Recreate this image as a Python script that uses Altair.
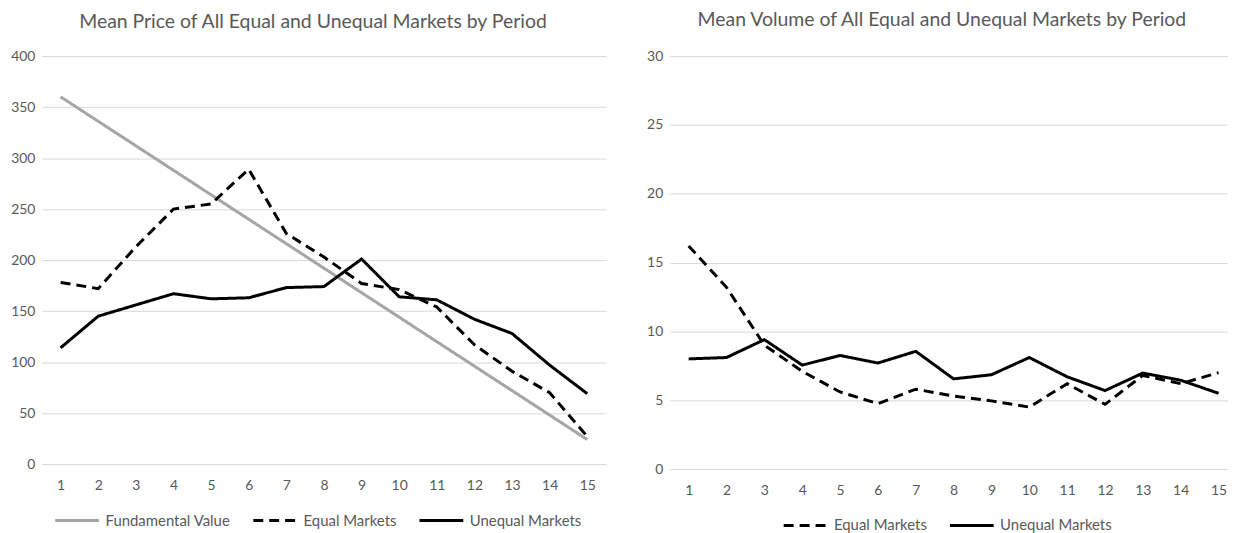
import altair as alt
import pandas as pd

periods = [1, 2, 3, 4, 5, 6, 7, 8, 9, 10, 11, 12, 13, 14, 15]

# Mean price
fundamental_value = [360, 336, 312, 288, 264, 240, 216, 192, 168, 144, 120, 96, 72, 48, 24]
price_equal = [178, 172, 213, 250, 255, 289, 226, 203, 177, 171, 154, 117, 91, 70, 27]
price_unequal = [114, 145, 156, 167, 162, 163, 173, 174, 201, 164, 161, 142, 128, 97, 69]

# Mean volume
volume_equal = [16.2, 13.2, 9.0, 7.1, 5.6, 4.75, 5.8, 5.3, 4.95, 4.5, 6.2, 4.7, 6.8, 6.2, 7.0]
volume_unequal = [8.0, 8.1, 9.4, 7.55, 8.25, 7.7, 8.55, 6.55, 6.85, 8.1, 6.7, 5.7, 6.97, 6.45, 5.5]

price_ticks = [0, 50, 100, 150, 200, 250, 300, 350, 400]
volume_ticks = [0, 5, 10, 15, 20, 25, 30]

price_series = ["Fundamental Value", "Equal Markets", "Unequal Markets"]
volume_series = ["Equal Markets", "Unequal Markets"]

rows = []
for name, vals in zip(price_series, [fundamental_value, price_equal, price_unequal]):
    for p, v in zip(periods, vals):
        rows.append({"Period": p, "Value": v, "Series": name})
df_price = pd.DataFrame(rows)

rows = []
for name, vals in zip(volume_series, [volume_equal, volume_unequal]):
    for p, v in zip(periods, vals):
        rows.append({"Period": p, "Value": v, "Series": name})
df_volume = pd.DataFrame(rows)

GRID = "#d9d9d9"
TXT = "#595959"
FONT = "Lato"
SYM = 1936


def x_enc(domain):
    return alt.X(
        "Period:Q",
        scale=alt.Scale(domain=domain, nice=False, zero=False),
        axis=alt.Axis(values=periods, format="d", grid=False, ticks=False, domain=False,
                      labelPadding=15, title=None, labelFlush=False),
    )


def y_enc(domain, ticks):
    return alt.Y(
        "Value:Q",
        scale=alt.Scale(domain=domain, nice=False),
        axis=alt.Axis(values=ticks, grid=True, ticks=False, domain=False, title=None,
                      labelPadding=7, gridColor=GRID, gridWidth=1),
    )


def legend(lx, ly):
    return alt.Legend(title=None, orient="none", direction="horizontal", legendX=lx, legendY=ly,
                      symbolType="stroke", symbolSize=SYM, symbolStrokeWidth=3,
                      labelOffset=5, columnPadding=16)


price_chart = alt.Chart(df_price).mark_line(strokeWidth=3).encode(
    x=x_enc([0.5, 15.5]),
    y=y_enc([0, 400], price_ticks),
    color=alt.Color("Series:N", scale=alt.Scale(domain=price_series, range=["#a5a5a5", "#000000", "#000000"]),
                    legend=legend(12, 443)),
    strokeDash=alt.StrokeDash("Series:N", scale=alt.Scale(domain=price_series, range=[[1, 0], [10, 6], [1, 0]]),
                              legend=legend(12, 443)),
).properties(
    width=567, height=410,
    title=alt.TitleParams("Mean Price of All Equal and Unequal Markets by Period", fontSize=19.5, color=TXT,
                          font=FONT, fontWeight="normal", anchor="middle", dx=-11, dy=1, offset=18),
)

volume_chart = alt.Chart(df_volume).mark_line(strokeWidth=3).encode(
    x=x_enc([0.5, 15.25]),
    y=y_enc([0, 30], volume_ticks),
    color=alt.Color("Series:N", scale=alt.Scale(domain=volume_series, range=["#000000", "#000000"]),
                    legend=legend(113, 448)),
    strokeDash=alt.StrokeDash("Series:N", scale=alt.Scale(domain=volume_series, range=[[10, 6], [1, 0]]),
                              legend=legend(113, 448)),
).properties(
    width=561, height=415,
    title=alt.TitleParams("Mean Volume of All Equal and Unequal Markets by Period", fontSize=19.5, color=TXT,
                          font=FONT, fontWeight="normal", anchor="middle", dx=-7, dy=-1, offset=18),
)

chart = alt.hconcat(price_chart, volume_chart, spacing=40).resolve_scale(
    color="independent", strokeDash="independent"
).resolve_legend(color="independent", strokeDash="independent").properties(
    padding={"left": 2, "top": 0, "right": 0, "bottom": 0}
).configure_view(stroke=None).configure_axis(
    labelFont=FONT, labelFontSize=14, labelColor=TXT
).configure_legend(
    labelFont=FONT, labelFontSize=15, labelColor=TXT
)

chart.save("out.html", embed_options={"renderer": "svg", "actions": False})
